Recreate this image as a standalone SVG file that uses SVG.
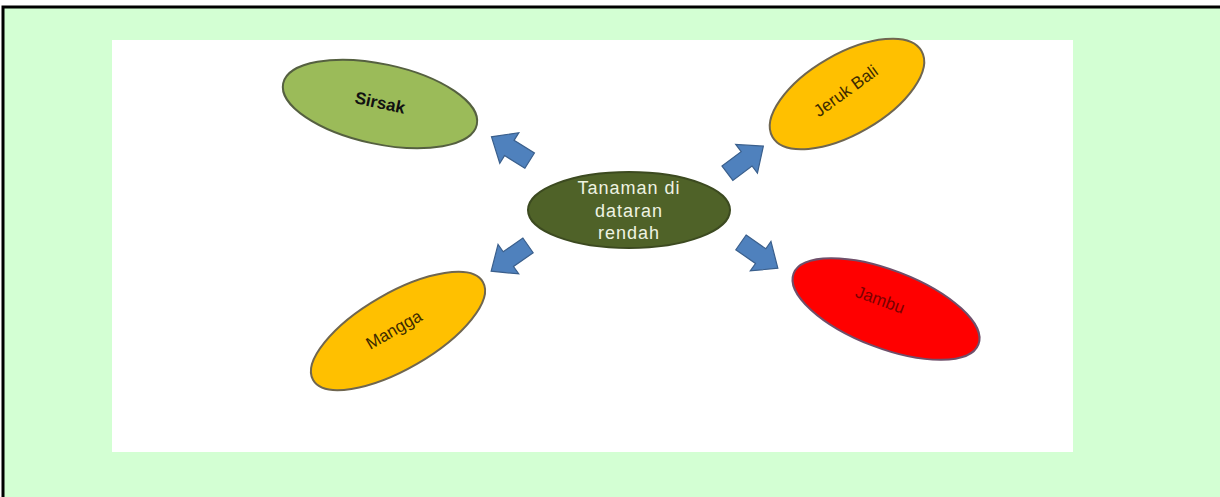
<svg xmlns="http://www.w3.org/2000/svg" width="1220" height="497" viewBox="0 0 1220 497">
<style>
.node{stroke-width:2}
.lbl{font-family:"Liberation Sans",Arial,sans-serif;font-size:17px;text-anchor:middle;dominant-baseline:central}
.ctr{font-size:18px;letter-spacing:1px;fill:#EEF3E2}
.arrow{fill:#4F81BD;stroke:#3A5F8C;stroke-width:1.2}
</style>
<defs>
<polygon id="blockArrow" points="-22,-9 2,-9 2,-18 23,0 2,18 2,9 -22,9"/>
</defs>
<rect x="0" y="0" width="1220" height="497" fill="#FFFFFF"/>
<rect x="3" y="7" width="1217" height="490" fill="#D3FFD3"/>
<path d="M3,497 V7 H1220" fill="none" stroke="#000" stroke-width="3"/>
<rect x="112" y="40" width="961" height="412" fill="#FFFFFF"/>
<g id="connectors">
<use href="#blockArrow" class="arrow" transform="translate(511,149) rotate(-148)"/>
<use href="#blockArrow" class="arrow" transform="translate(745,160) rotate(-37)"/>
<use href="#blockArrow" class="arrow" transform="translate(510,258) rotate(145)"/>
<use href="#blockArrow" class="arrow" transform="translate(759,255) rotate(35)"/>
</g>
<g id="center">
<ellipse cx="629" cy="210" rx="101" ry="38" fill="#4F6228" stroke="#3C4A20" class="node"/>
<text class="lbl ctr" x="629" y="188">Tanaman di</text>
<text class="lbl ctr" x="629" y="211">dataran</text>
<text class="lbl ctr" x="629" y="233">rendah</text>
</g>
<g id="sirsak">
<ellipse cx="380" cy="104" rx="99" ry="40" transform="rotate(12 380 104)" fill="#9BBB59" stroke="#556040" class="node"/>
<text class="lbl" fill="#111" font-weight="bold" x="380" y="103" transform="rotate(12 380 103)">Sirsak</text>
</g>
<g id="jerukbali">
<ellipse cx="847" cy="94" rx="86" ry="40" transform="rotate(-30 847 94)" fill="#FFC000" stroke="#6F6650" class="node"/>
<text class="lbl" fill="#3D2B00" x="846" y="91" transform="rotate(-36 846 91)">Jeruk Bali</text>
</g>
<g id="mangga">
<ellipse cx="398" cy="331" rx="98" ry="38" transform="rotate(-30 398 331)" fill="#FFC000" stroke="#6F6650" class="node"/>
<text class="lbl" fill="#3D2B00" x="394" y="330" transform="rotate(-30 394 330)">Mangga</text>
</g>
<g id="jambu">
<ellipse cx="886" cy="309" rx="99" ry="39" transform="rotate(21 886 309)" fill="#FF0000" stroke="#6F4F6A" class="node"/>
<text class="lbl" fill="#7A0000" x="880" y="300" transform="rotate(20 880 300)">Jambu</text>
</g>
</svg>
